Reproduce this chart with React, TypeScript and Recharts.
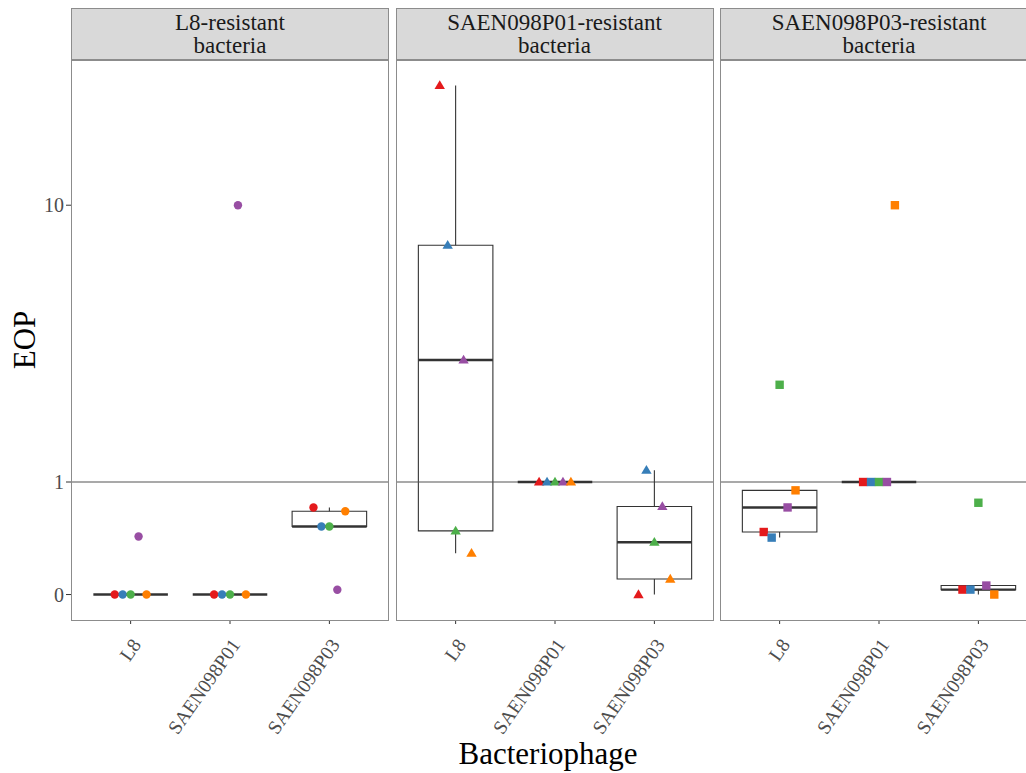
import { ComposedChart, Scatter, XAxis, YAxis, ReferenceLine, ReferenceArea } from "recharts";

// phages on the x axis, strains are the coloured points
const phages = ["L8", "SAEN098P01", "SAEN098P03"];
const strains = ["Strain 1", "Strain 2", "Strain 3", "Strain 4", "Strain 5"];
const strainColors = ["#E41A1C", "#377EB8", "#4DAF4A", "#984EA3", "#FF7F00"];
const panelTitles = ["L8-resistant\nbacteria", "SAEN098P01-resistant\nbacteria", "SAEN098P03-resistant\nbacteria"];
const panelShapes = ["circle", "triangle", "square"];

// EOP per strain (rows) against each phage (columns)
const l8ResistantEOP = [
  [0, 0, 0.71],
  [0, 0, 0.52],
  [0, 0, 0.52],
  [0.43, 10, 0.03],
  [0, 0, 0.67],
];
const p01ResistantEOP = [
  [22, 1, 0],
  [7.6, 1, 1.15],
  [0.48, 1, 0.38],
  [3.24, 1, 0.72],
  [0.29, 1, 0.1],
];
const p03ResistantEOP = [
  [0.47, 1, 0.031],
  [0.42, 1, 0.031],
  [2.64, 1, 0.76],
  [0.71, 1, 0.057],
  [0.9, 10, 0],
];
const panelData = [l8ResistantEOP, p01ResistantEOP, p03ResistantEOP];

const yTickValues = [0, 1, 10];

const FONT = "'Liberation Serif', 'DejaVu Serif', serif";
const tr = (v: number) => Math.log10(v + 1);

const allT = panelData.flat(2).map(tr);
const tMin = Math.min(...allT);
const tMax = Math.max(...allT);
const pad = (tMax - tMin) * 0.05;
const yDomain = [tMin - pad, tMax + pad];

const quantile = (sorted: number[], p: number) => {
  const h = (sorted.length - 1) * p;
  const lo = Math.floor(h);
  const hi = Math.ceil(h);
  return sorted[lo] + (h - lo) * (sorted[hi] - sorted[lo]);
};

const boxStats = (vals: number[]) => {
  const s = [...vals].sort((a, b) => a - b);
  const q1 = quantile(s, 0.25);
  const med = quantile(s, 0.5);
  const q3 = quantile(s, 0.75);
  const iqr = q3 - q1;
  const lowW = Math.min(...s.filter((v) => v >= q1 - 1.5 * iqr));
  const highW = Math.max(...s.filter((v) => v <= q3 + 1.5 * iqr));
  return { q1, med, q3, lowW, highW };
};

const PANEL_W = 318;
const PANEL_H = 560;
const PANEL_TOP = 60;
const panelLefts = [71, 395.5, 720];
const Y_AXIS_W = 60;
const X_AXIS_H = 150;

const makeShape = (kind: string) => (props: any) => {
  const { cx, cy, fill } = props;
  if (kind === "circle") return <circle cx={cx} cy={cy} r={4.2} fill={fill} />;
  if (kind === "triangle")
    return <polygon points={`${cx},${cy - 5.2} ${cx - 5.2},${cy + 3.6} ${cx + 5.2},${cy + 3.6}`} fill={fill} />;
  return <rect x={cx - 4.2} y={cy - 4.2} width={8.4} height={8.4} fill={fill} />;
};

const XTick = (props: any) => {
  const { x, y, payload } = props;
  return (
    <g transform={`translate(${x},${y})`}>
      <text
        transform="rotate(-55)"
        textAnchor="end"
        dy={20}
        dx={-9}
        fontSize={19.5}
        fontFamily={FONT}
        fill="#4d4d4d"
      >
        {phages[payload.value - 1]}
      </text>
    </g>
  );
};

const Panel = ({ index }: { index: number }) => {
  const eop = panelData[index];
  const showY = index === 0;
  const boxWidth = 0.375;
  const stats = phages.map((_, j) => boxStats(eop.map((row) => tr(row[j]))));
  const left = panelLefts[index] - (showY ? Y_AXIS_W : 0);
  const width = PANEL_W + (showY ? Y_AXIS_W : 0);
  return (
    <div style={{ position: "absolute", left, top: PANEL_TOP }}>
      <ComposedChart width={width} height={PANEL_H + X_AXIS_H} margin={{ top: 0, right: 0, bottom: 0, left: 0 }}>
        <XAxis
          type="number"
          dataKey="x"
          domain={[0.4, 3.6]}
          ticks={[1, 2, 3]}
          allowDataOverflow
          height={X_AXIS_H}
          axisLine={false}
          tickLine={{ stroke: "#333333" }}
          tickSize={4}
          tick={<XTick />}
          interval={0}
        />
        <YAxis
          type="number"
          dataKey="y"
          domain={yDomain}
          allowDataOverflow
          hide={!showY}
          width={Y_AXIS_W}
          ticks={yTickValues.map(tr)}
          tickFormatter={(v: number) => String(Math.round(Math.pow(10, v) - 1))}
          axisLine={false}
          tickLine={{ stroke: "#333333" }}
          tickSize={5}
          tickMargin={2}
          tick={{ fontSize: 20, fontFamily: FONT, fill: "#4d4d4d" }}
          interval={0}
        />
        <ReferenceLine y={tr(1)} stroke="#555555" strokeWidth={1.2} />
        {stats.map((s, j) => (
          <ReferenceLine
            key={`wh${j}`}
            segment={[{ x: j + 1, y: s.q3 }, { x: j + 1, y: s.highW }]}
            stroke="#333333"
            strokeWidth={1.1}
          />
        ))}
        {stats.map((s, j) => (
          <ReferenceLine
            key={`wl${j}`}
            segment={[{ x: j + 1, y: s.q1 }, { x: j + 1, y: s.lowW }]}
            stroke="#333333"
            strokeWidth={1.1}
          />
        ))}
        {stats.map((s, j) =>
          s.q3 > s.q1 ? (
            <ReferenceArea
              key={`box${j}`}
              x1={j + 1 - boxWidth}
              x2={j + 1 + boxWidth}
              y1={s.q1}
              y2={s.q3}
              fill="#ffffff"
              fillOpacity={0}
              stroke="#333333"
              strokeWidth={1.1}
            />
          ) : null
        )}
        {stats.map((s, j) => (
          <ReferenceLine
            key={`med${j}`}
            segment={[{ x: j + 1 - boxWidth, y: s.med }, { x: j + 1 + boxWidth, y: s.med }]}
            stroke="#333333"
            strokeWidth={2.4}
          />
        ))}
        {strains.map((name, i) => (
          <Scatter
            key={name}
            name={name}
            data={eop[i].map((v, j) => ({ x: j + 1 + (i - 2) * 0.08, y: tr(v) }))}
            fill={strainColors[i]}
            shape={makeShape(panelShapes[index])}
            isAnimationActive={false}
          />
        ))}
      </ComposedChart>
    </div>
  );
};

export default function App() {
  return (
    <div
      style={{
        position: "absolute",
        left: 0,
        top: 0,
        width: 1026,
        height: 773,
        overflow: "hidden",
        background: "#ffffff",
        fontFamily: FONT,
      }}
    >
      {panelTitles.map((title, i) => (
        <div
          key={`strip${i}`}
          style={{
            position: "absolute",
            left: panelLefts[i],
            top: 7.5,
            width: PANEL_W,
            height: 52,
            boxSizing: "border-box",
            background: "#d9d9d9",
            border: "1px solid #8c8c8c",
            color: "#1a1a1a",
            fontSize: 23,
            lineHeight: "23px",
            textAlign: "center",
            whiteSpace: "pre",
            paddingTop: 2,
          }}
        >
          {title}
        </div>
      ))}
      {[0, 1, 2].map((i) => (
        <Panel key={i} index={i} />
      ))}
      {panelLefts.map((l, i) => (
        <div
          key={`border${i}`}
          style={{
            position: "absolute",
            left: l,
            top: PANEL_TOP - 0.5,
            width: PANEL_W,
            height: PANEL_H + 1,
            boxSizing: "border-box",
            border: "1px solid #8c8c8c",
            pointerEvents: "none",
          }}
        />
      ))}
      <div
        style={{
          position: "absolute",
          left: 25 - 40,
          top: 340 - 20,
          width: 80,
          height: 40,
          lineHeight: "40px",
          textAlign: "center",
          fontSize: 31,
          color: "#000000",
          transform: "rotate(-90deg)",
        }}
      >
        EOP
      </div>
      <div
        style={{
          position: "absolute",
          left: 548 - 150,
          top: 736,
          width: 300,
          textAlign: "center",
          fontSize: 31,
          lineHeight: "36px",
          color: "#000000",
        }}
      >
        Bacteriophage
      </div>
    </div>
  );
}
